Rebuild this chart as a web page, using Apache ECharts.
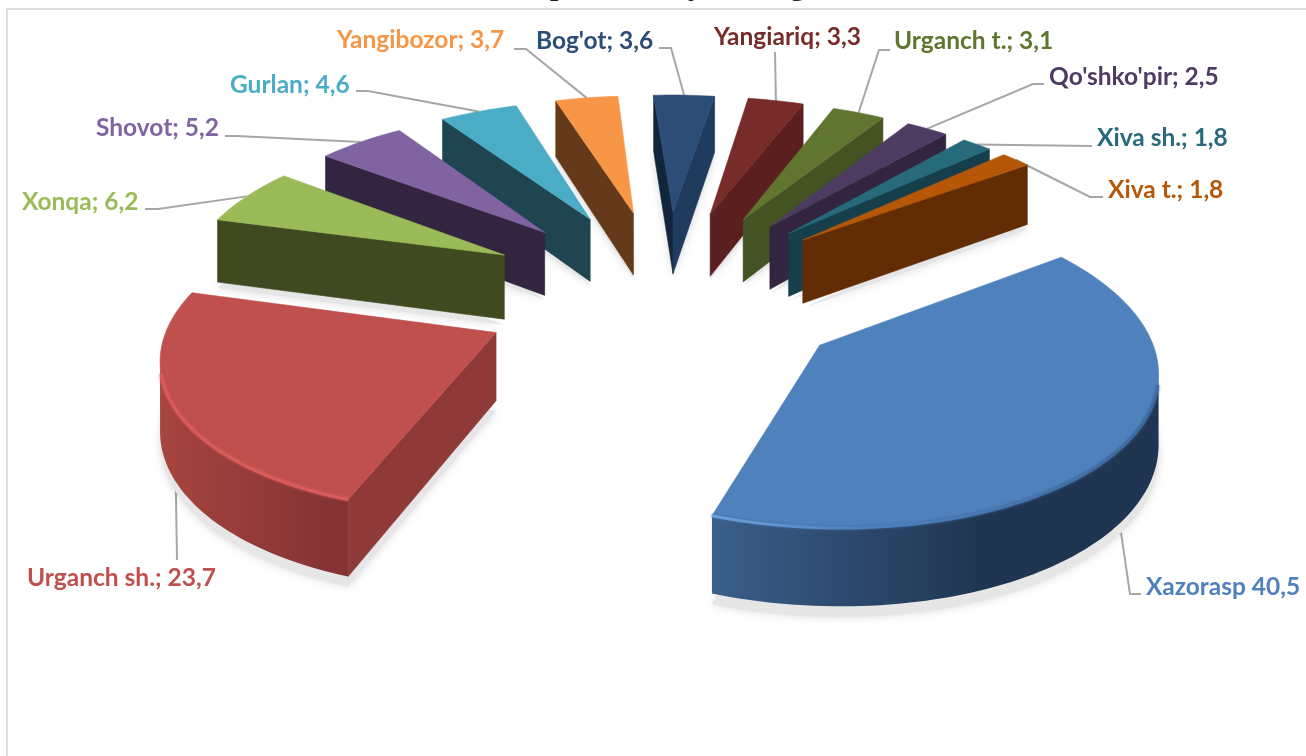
<!DOCTYPE html>
<html>
<head>
<meta charset="utf-8">
<title>Pie</title>
<script src="https://cdn.jsdelivr.net/npm/echarts@6/dist/echarts.min.js"></script>
<style>
html, body { margin: 0; background: #fff; }
#main { width: 1306px; height: 756px; }
</style>
</head>
<body>
<div id="main"></div>
<script>
var names = ["Xazorasp", "Urganch sh.", "Xonqa", "Shovot", "Gurlan", "Yangibozor", "Bog'ot", "Yangiariq", "Urganch t.", "Qo'shko'pir", "Xiva sh.", "Xiva t."];
var values = [40.5, 23.7, 6.2, 5.2, 4.6, 3.7, 3.6, 3.3, 3.1, 2.5, 1.8, 1.8];

var topColors = ["#4f81bd", "#c0504d", "#9bbb59", "#8064a2", "#4bacc6", "#f79646", "#2c4d75", "#772c2a", "#5f7530", "#4d3b62", "#276a7c", "#b65708"];
var startWall = ["#2b4a6e", "#8f3a38", "#404a20", "#33253f", "#1e4550", "#643a1a", "#12263b", "#4a1c1b", "#3a4720", "#2b2036", "#12353f", "#4f2403"];
var endWall = ["#2b4a6e", "#8f3a38", "#404a20", "#33253f", "#1e4550", "#643a1a", "#1f3c5e", "#5a1f1e", "#445323", "#33253f", "#163f4b", "#622d04"];
var sideLight = ["#3a5f8a", "#a7453f", "#404a20", "#33253f", "#1e4550", "#643a1a", "#12263b", "#5a1f1e", "#445323", "#33253f", "#163f4b", "#622d04"];
var sideDark = ["#1f3552", "#843234", "#404a20", "#33253f", "#1e4550", "#643a1a", "#12263b", "#5a1f1e", "#445323", "#33253f", "#163f4b", "#622d04"];
var sideStop = [0.6, 0.92, 1, 1, 1, 1, 1, 1, 1, 1, 1, 1];

// label layout: text left/middle, leader elbow, where on the rim the leader starts
var labelXY = [[1146, 587], [27, 578], [22, 202], [96, 128], [230, 85], [337, 40], [536, 41], [714, 37], [894, 41], [1049, 77], [1097, 138], [1108, 190]];
var elbows = [[[1130, 594], [1141, 594]], [[177, 560]], [[158, 209], [145, 209]], [[237, 136], [225, 136]], [[368, 91], [356, 91]], [[526, 49], [514, 49]], [[671, 48], [659, 48]], [[775, 52]], [[879, 50], [890, 50]], [[1033, 84], [1044, 84]], [[1092, 146]], [[1090, 197], [1103, 197]]];
var leaderOnWall = [true, true, false, false, false, false, false, false, false, false, false, false];

// the title is cut by the top edge, only these descenders are left of it
var titleTails = [["p", 550], ["y", 688], ["g", 790]];

// view of the pie, fitted against the picture
var cx = 665.4, cy = 291.8, radius = 320.1, squash = 0.4615, explode = 0.578, firstAngle = 54, persp = 0.1169, thick = 66;

function label(i) {
  return names[i] + (i === 0 ? " " : "; ") + values[i].toFixed(1).replace(".", ",");
}

var total = values.reduce(function (a, b) { return a + b; }, 0);
var slices = [];
var acc = 0;
values.forEach(function (v, i) {
  var a0 = (firstAngle + acc / total * 360) * Math.PI / 180;
  var a1 = (firstAngle + (acc + v) / total * 360) * Math.PI / 180;
  var m = (a0 + a1) / 2;
  slices.push({ a0: a0, a1: a1, ox: explode * Math.sin(m), oy: -explode * Math.cos(m) });
  acc += v;
});
var drawOrder = values.map(function (v, i) { return i; }).sort(function (p, q) { return slices[p].oy - slices[q].oy; });

function project(x, y, bottom) {
  var w = 1 / (1 - persp * y);
  return [cx + radius * x * w, cy + radius * squash * y * w + (bottom ? thick * w : 0)];
}
function rimPoint(s, a, bottom) {
  return project(s.ox + Math.sin(a), s.oy - Math.cos(a), bottom);
}
function arcPoints(s, bottom) {
  var n = Math.max(6, Math.round((s.a1 - s.a0) * 40));
  var out = [];
  for (var k = 0; k <= n; k++) out.push(rimPoint(s, s.a0 + (s.a1 - s.a0) * k / n, bottom));
  return out;
}
function area(p) {
  var t = 0;
  for (var k = 0; k < p.length; k++) {
    var n = p[(k + 1) % p.length];
    t += p[k][0] * n[1] - n[0] * p[k][1];
  }
  return t / 2;
}
function poly(api, pts, fill, stroke) {
  return {
    type: "polygon",
    shape: { points: pts.map(function (p) { return api.coord(p); }) },
    style: { fill: fill, stroke: stroke || fill, lineWidth: 0.6, lineJoin: "round" }
  };
}
function hGrad(api, x0, x1, stops) {
  return {
    type: "linear", global: true,
    x: api.coord([x0, 0])[0], y: 0, x2: api.coord([x1, 0])[0], y2: 0,
    colorStops: stops
  };
}

function renderShadow(params, api) {
  var s = slices[api.value(0)];
  // shadow falls further out on the slices near the viewer
  var drop = 3 + (1 / (1 - persp * s.oy) - 0.93) * 70;
  var pts = [project(s.ox, s.oy, true)].concat(arcPoints(s, true)).map(function (p) {
    return api.coord([p[0], p[1] + drop]);
  });
  return {
    type: "polygon",
    shape: { points: pts },
    style: { fill: "#e6e6e6", shadowBlur: 10, shadowColor: "rgba(0,0,0,0.14)" }
  };
}

function renderSlice(params, api) {
  var i = api.value(0);
  var s = slices[i];
  var apexT = project(s.ox, s.oy), apexB = project(s.ox, s.oy, true);
  var top = arcPoints(s), bot = arcPoints(s, true);
  var kids = [];

  // outer wall: only the segments turned to the viewer
  var vis = [];
  for (var k = 0; k < top.length - 1; k++) {
    if (area([top[k], top[k + 1], bot[k + 1], bot[k]]) < 0) vis.push(k);
  }
  if (vis.length) {
    var f = vis[0], l = vis[vis.length - 1] + 1;
    var wall = top.slice(f, l + 1).concat(bot.slice(f, l + 1).reverse());
    var xs = wall.map(function (p) { return p[0]; });
    var x0 = Math.min.apply(null, xs), x1 = Math.max.apply(null, xs);
    kids.push(poly(api, wall, hGrad(api, x0, x1, [
      { offset: 0, color: sideLight[i] }, { offset: sideStop[i], color: sideDark[i] }, { offset: 1, color: sideDark[i] }
    ]), "transparent"));
  }
  var first = top[0], last = top[top.length - 1], firstB = bot[0], lastB = bot[bot.length - 1];
  var w0 = [apexT, first, firstB, apexB], w1 = [last, apexT, apexB, lastB];
  if (area(w0) < 0) kids.push(poly(api, w0, startWall[i]));
  if (area(w1) < 0) kids.push(poly(api, w1, endWall[i]));

  kids.push(poly(api, [apexT].concat(top), topColors[i]));

  if (i < 2 && vis.length) {
    var rim = i === 0 ? top.slice(vis[0] + 3, vis[vis.length - 1] + 2) : top.slice(vis[0], vis[vis.length - 1] - 1);
    var rimColor = i === 0 ? hGrad(api, last[0], last[0] + 420, [
      { offset: 0, color: "#6d9fd9" }, { offset: 0.35, color: "#4f81bd" }, { offset: 1, color: "#3f6a9f" }
    ]) : "#d85d5a";
    kids.push({
      type: "polyline",
      shape: { points: rim.map(function (p) { return api.coord(p); }) },
      style: { fill: "none", lineWidth: 3, lineCap: "butt", stroke: rimColor, shadowBlur: 3, shadowColor: i === 0 ? "#3f6a9f" : "#d85d5a" }
    });
  }
  return { type: "group", children: kids };
}

function renderLabel(params, api) {
  var i = api.value(0);
  var s = slices[i];
  var start = rimPoint(s, (s.a0 + s.a1) / 2, leaderOnWall[i]);
  var line = [start].concat(elbows[i]).map(function (p) { return api.coord(p); });
  return {
    type: "group",
    children: [
      { type: "polyline", shape: { points: line }, style: { fill: "none", stroke: "#a6a6a6", lineWidth: 2 } },
      {
        type: "text",
        x: api.coord(labelXY[i])[0], y: api.coord(labelXY[i])[1],
        style: { text: label(i), fill: topColors[i], font: "bold 24.5px Lato", align: "left", verticalAlign: "middle" }
      }
    ]
  };
}

var chart = echarts.init(document.getElementById("main"));
chart.setOption({
  animation: false,
  grid: { left: 0, right: 0, top: 0, bottom: 0 },
  xAxis: { type: "value", min: 0, max: 1306, show: false },
  yAxis: { type: "value", min: 0, max: 756, inverse: true, show: false },
  graphic: [
    { type: "polyline", shape: { points: [[7, 756], [7, 9], [1306, 9]] }, style: { fill: "none", stroke: "#dfdfdf", lineWidth: 2 }, z: 0 }
  ].concat(titleTails.map(function (t) {
    return { type: "text", x: t[1], y: 2, style: { text: t[0], fill: "#222", font: "bold 30px 'Liberation Serif'", align: "left", verticalAlign: "bottom" }, z: 0 };
  })),
  series: [
    { type: "custom", coordinateSystem: "cartesian2d", silent: true, clip: false, z: 1, renderItem: renderLabel, data: values.map(function (v, i) { return [i]; }) },
    { type: "custom", coordinateSystem: "cartesian2d", silent: true, clip: false, z: 2, renderItem: renderShadow, data: drawOrder.map(function (i) { return [i]; }) },
    { type: "custom", coordinateSystem: "cartesian2d", silent: true, clip: false, z: 3, renderItem: renderSlice, data: drawOrder.map(function (i) { return [i]; }) }
  ]
});
</script>
</body>
</html>
